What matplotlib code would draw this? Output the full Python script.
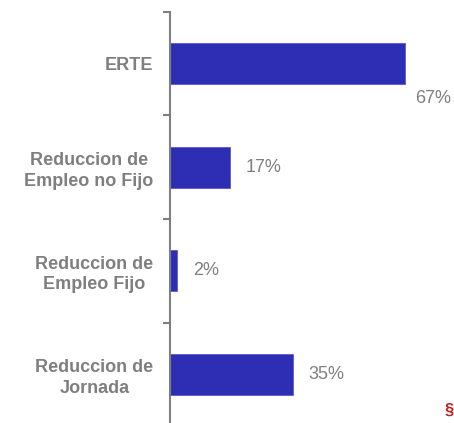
import matplotlib.pyplot as plt
import numpy as np

# datos
categorias = ['ERTE', 'Reduccion de\nEmpleo no Fijo', 'Reduccion de\nEmpleo Fijo', 'Reduccion de\nJornada']
valores = [67, 17, 2, 35]
etiquetas = ['67%', '17%', '2%', '35%']

gris = '#7f7f7f'
azul = '#2e2eb4'

plt.rcParams['font.family'] = ['Liberation Sans', 'DejaVu Sans']

fig = plt.figure(figsize=(4.54, 4.23), dpi=100)
W, H = 454, 423
ax = fig.add_axes([170 / W, -3 / H, 284 / W, 414 / H])

y = np.arange(len(categorias))
ax.barh(y, valores, height=0.4, color=azul, edgecolor='#5a5ad0', linewidth=0.6)
ax.set_ylim(3.5, -0.5)
ax.set_xlim(0, 284 / 3.5)

# etiquetas de valor
for i, (v, t) in enumerate(zip(valores, etiquetas)):
    if i == 0:
        ax.annotate(t, (v, i), xytext=(11, -35), textcoords='offset pixels',
                    ha='left', va='center', fontsize=13, color=gris)
    else:
        ax.annotate(t, (v, i), xytext=(16, 0), textcoords='offset pixels',
                    ha='left', va='center', fontsize=13, color=gris)

ax.set_yticks(y)
ax.set_yticklabels(categorias, fontsize=13, fontweight='bold', color=gris,
                   multialignment='center', linespacing=1.25)
ax.tick_params(axis='y', which='major', length=0, pad=12)
ax.set_yticks(np.arange(-0.5, 4.0, 1.0), minor=True)
ax.tick_params(axis='y', which='minor', length=5, width=1.5, color=gris, direction='out')

ax.set_xticks([])
for s in ['top', 'right', 'bottom']:
    ax.spines[s].set_visible(False)
ax.spines['left'].set_color(gris)
ax.spines['left'].set_linewidth(1.5)

# logo en la esquina
fig.text(0.999, 0.03, '§', color='#c8201e', fontsize=12, fontweight='bold',
         ha='right', va='center')

fig.savefig('out.png', dpi=100)
